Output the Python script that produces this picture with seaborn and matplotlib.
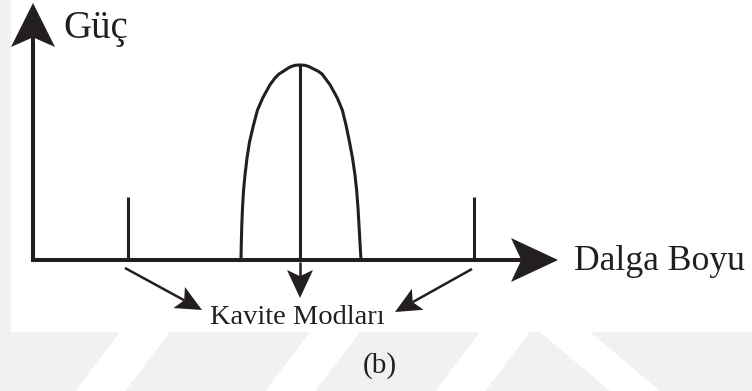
import matplotlib
matplotlib.use("Agg")
import matplotlib.pyplot as plt
import numpy as np
import pandas as pd
import seaborn as sns

# cavity modes (wavelength position, line height) in diagram units
mode_wavelength = [128, 300, 474]
mode_height = [63, 195, 63]

# gain curve
gain_wavelength = [241, 241.3, 241.8, 242.5, 243.5, 245, 247, 249.5, 253.5, 257.5, 262.7,
                   266, 270, 275, 279, 283.3, 288.3, 291.7, 296, 300,
                   304, 308.3, 311.7, 318.3, 322, 325, 330, 334, 337.3, 342.3, 346,
                   349.5, 352.5, 355, 356.7, 358, 359, 360, 361]
gain_power = [0, 17, 35, 52, 69, 85, 102, 118, 135, 150, 162,
              168, 175.3, 182, 186, 188.7, 192, 193.7, 194.8, 195,
              194.8, 193.7, 192, 188.7, 186, 182, 175.3, 168, 162, 150, 135,
              118, 102, 85, 69, 52, 35, 17, 0]

y_label = "Güç"
x_label = "Dalga Boyu"
mode_label = "Kavite Modları"
panel_label = "(b)"

ink = "#231f20"


def draw_arrow(ax, start, tip, head_len, half_w, lw):
    start = np.array(start, dtype=float)
    tip = np.array(tip, dtype=float)
    u = (tip - start) / np.linalg.norm(tip - start)
    n = np.array([-u[1], u[0]])
    back = tip - head_len * u
    notch = tip - 0.78 * head_len * u
    ax.plot([start[0], notch[0]], [start[1], notch[1]], color=ink, lw=lw,
            solid_capstyle="butt", zorder=3)
    head = np.array([tip, back + half_w * n, notch, back - half_w * n])
    ax.fill(head[:, 0], head[:, 1], color=ink, lw=0, zorder=4)


sns.set_theme(style="white")
plt.rcParams["font.family"] = ["Liberation Serif", "DejaVu Serif"]

fig = plt.figure(figsize=(7.52, 3.91), dpi=100)
ax = fig.add_axes([0, 0, 1, 1])
ax.set_xlim(0, 752)
ax.set_ylim(-131, 260)
ax.axis("off")

# faint watermark behind the pasted figure
ax.axhspan(-131, -72, color="#f1f1f1", lw=0, zorder=0)
ax.axvspan(0, 11, color="#f1f1f1", lw=0, zorder=0)
for x0 in [60, 250, 420]:
    ax.fill([x0 + 60, x0 + 110, x0 + 65, x0 + 15], [-72, -72, -131, -131],
            color="white", lw=0, zorder=0)
ax.fill([540, 590, 660, 610], [-72, -72, -131, -131], color="white", lw=0, zorder=0)

# axes arrows
draw_arrow(ax, (33, -1.5), (33, 257), 44, 22, 2.9)
draw_arrow(ax, (31.5, 0), (558, 0), 47, 22, 2.9)

# gain curve
curve = pd.DataFrame({"wl": gain_wavelength, "p": gain_power})
sns.lineplot(data=curve, x="wl", y="p", sort=False, color=ink, lw=2.2, ax=ax, zorder=3)
ax.lines[-1].set_solid_joinstyle("round")

# cavity modes
ax.vlines(mode_wavelength, 0, mode_height, color=ink, lw=2.2, zorder=3)

# arrows to the label
draw_arrow(ax, (125, -8), (202, -50), 26, 12, 1.8)
draw_arrow(ax, (300, -2), (300, -38), 28, 13, 1.8)
draw_arrow(ax, (472, -9), (395, -52), 26, 12, 1.8)

ax.text(63, 222, y_label, fontsize=28, color=ink, ha="left", va="baseline")
ax.text(574, -10, x_label, fontsize=25.7, color=ink, ha="left", va="baseline")
ax.text(297, -64, mode_label, fontsize=20.5, color=ink, ha="center", va="baseline")
ax.text(380, -113, panel_label, fontsize=21, color=ink, ha="center", va="baseline")

fig.savefig("out.png", dpi=100)
